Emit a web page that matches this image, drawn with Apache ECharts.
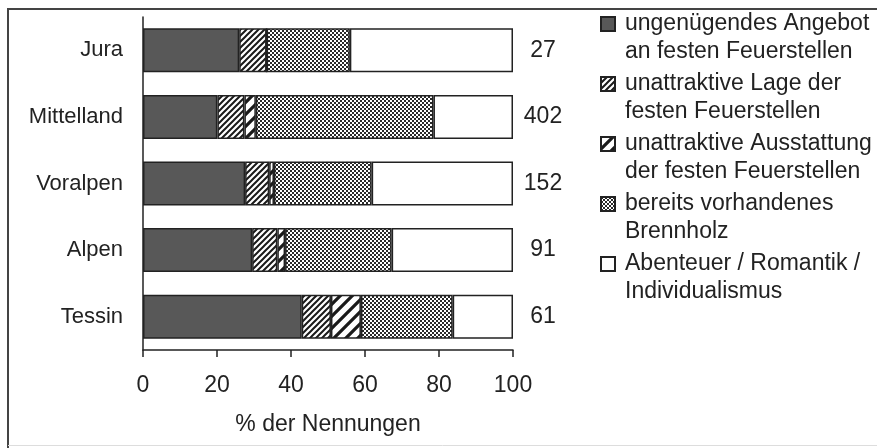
<!DOCTYPE html>
<html>
<head>
<meta charset="utf-8">
<script src="https://cdn.jsdelivr.net/npm/echarts@6/dist/echarts.min.js"></script>
<style>
  html, body { margin: 0; padding: 0; background: #fff; }
  #chart { width: 877px; height: 448px; }
</style>
</head>
<body>
<div id="chart"></div>
<script>
// regions, top to bottom
const regions = ['Jura', 'Mittelland', 'Voralpen', 'Alpen', 'Tessin']
const counts = ['27', '402', '152', '91', '61']

// % der Nennungen per reason
const angebot = [26.0, 20.1, 27.6, 29.5, 42.9]
const lage = [7.4, 7.3, 6.5, 6.8, 7.9]
const ausstattung = [0, 3.1, 1.3, 2.1, 8.1]
const brennholz = [22.5, 48.0, 26.4, 28.8, 24.8]
const abenteuer = [44.1, 21.5, 38.2, 32.8, 16.3]

const xTicks = [0, 20, 40, 60, 80, 100]

const seriesNames = [
  'ungenügendes Angebot\nan festen Feuerstellen',
  'unattraktive Lage der\nfesten Feuerstellen',
  'unattraktive Ausstattung\nder festen Feuerstellen',
  'bereits vorhandenes\nBrennholz',
  'Abenteuer / Romantik /\nIndividualismus'
]

const FONT = '"Liberation Sans", Arial, sans-serif'

// little canvas tiles for the black & white fills
const makeHatch = (size, width) => {
  const c = document.createElement('canvas')
  c.width = size
  c.height = size
  const ctx = c.getContext('2d')
  ctx.fillStyle = '#fff'
  ctx.fillRect(0, 0, size, size)
  ctx.strokeStyle = '#1a1a1a'
  ctx.lineWidth = width
  ctx.beginPath()
  ctx.moveTo(-size, size * 2); ctx.lineTo(size * 2, -size)
  ctx.moveTo(-size * 2, size * 2); ctx.lineTo(size, -size)
  ctx.moveTo(0, size * 2); ctx.lineTo(size * 3, -size)
  ctx.stroke()
  return c
}

const makeChecker = () => {
  const c = document.createElement('canvas')
  c.width = 4
  c.height = 4
  const ctx = c.getContext('2d')
  ctx.fillStyle = '#fff'
  ctx.fillRect(0, 0, 4, 4)
  ctx.fillStyle = '#2a2a2a'
  ctx.fillRect(0, 0, 2, 2)
  ctx.fillRect(2, 2, 2, 2)
  return c
}

const fills = [
  '#585858',
  { image: makeHatch(6, 2), repeat: 'repeat' },
  { image: makeHatch(12, 3.2), repeat: 'repeat' },
  { image: makeChecker(), repeat: 'repeat' },
  '#ffffff'
]

const values = [angebot, lage, ausstattung, brennholz, abenteuer]

const series = values.map((data, i) => ({
  name: seriesNames[i],
  type: 'bar',
  stack: 'total',
  barWidth: 44,
  data,
  itemStyle: {
    color: fills[i],
    borderColor: '#222',
    borderWidth: 1.5
  }
}))

const chart = echarts.init(document.getElementById('chart'))

chart.setOption({
  animation: false,
  textStyle: { fontFamily: FONT },
  grid: { left: 143, right: 364, top: 17, bottom: 98 },
  legend: {
    orient: 'vertical',
    left: 600,
    top: 10,
    padding: 0,
    itemWidth: 14,
    itemHeight: 42,
    itemGap: 4,
    // square sits in the top of a tall box so it lines up with the first text line
    icon: 'path://M0,0L14,0L14,14L0,14Z M0,42',
    selectedMode: false,
    textStyle: {
      fontFamily: FONT,
      fontSize: 23,
      lineHeight: 28,
      color: '#222',
      padding: [0, 0, 0, 5]
    },
    data: seriesNames
  },
  xAxis: {
    type: 'value',
    min: xTicks[0],
    max: xTicks[xTicks.length - 1],
    interval: 20,
    name: '% der Nennungen',
    nameLocation: 'middle',
    nameGap: 63,
    nameTextStyle: { fontFamily: FONT, fontSize: 23, color: '#222' },
    axisLine: { show: true, lineStyle: { color: '#222', width: 1.5 } },
    axisTick: { show: true, length: 7, lineStyle: { color: '#222', width: 1.5 } },
    axisLabel: { fontFamily: FONT, fontSize: 23, color: '#222', margin: 24 },
    splitLine: { show: false }
  },
  yAxis: [
    {
      type: 'category',
      inverse: true,
      data: regions,
      axisLine: { show: true, lineStyle: { color: '#222', width: 1.5 } },
      axisTick: { show: false },
      axisLabel: { fontFamily: FONT, fontSize: 22, color: '#222', margin: 20 }
    },
    {
      type: 'category',
      inverse: true,
      position: 'right',
      data: counts,
      axisLine: { show: false },
      axisTick: { show: false },
      axisLabel: { fontFamily: FONT, fontSize: 23, color: '#222', margin: 30, align: 'center' }
    }
  ],
  graphic: [
    {
      type: 'polyline',
      shape: { points: [[8, 448], [8, 9], [877, 9]] },
      style: { stroke: '#444', lineWidth: 2, fill: null }
    },
    {
      type: 'line',
      shape: { x1: 8, y1: 445.5, x2: 877, y2: 445.5 },
      style: { stroke: '#ddd', lineWidth: 1 }
    }
  ],
  series
})
</script>
</body>
</html>
